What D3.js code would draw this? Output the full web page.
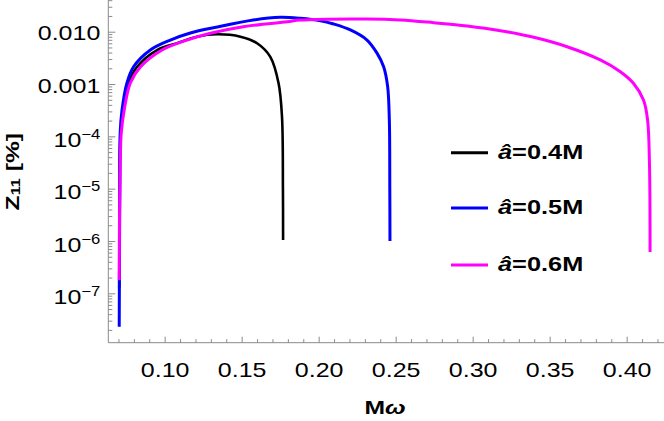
<!DOCTYPE html>
<html><head><meta charset="utf-8">
<script src="https://cdn.jsdelivr.net/npm/d3@7"></script>
<style>
html,body{margin:0;padding:0;background:#fff;}
svg{display:block;font-family:"Liberation Sans",Arial,sans-serif;}
</style></head>
<body><svg id="chart" width="664" height="421"></svg>
<script>
// ---- data ----
const seriesLabels = ["0.4M", "0.5M", "0.6M"];
const seriesColors = ["#000000", "#0000ff", "#ff00ff"];

const omega04 = [0.0705,0.0708,0.0713,0.0730,0.0766,0.0820,0.0951,0.1081,0.1210,0.1341,0.1492,0.1600,0.1686,0.1740,0.1762,0.1768,0.1769];
const logZ04  = [-6.9,-5.0,-4.0,-3.5,-2.98,-2.675,-2.35,-2.22,-2.095,-2.05,-2.095,-2.22,-2.48,-2.99,-3.63,-5.0,-5.98];

const omega05 = [0.0705,0.0707,0.0709,0.0711,0.0723,0.0755,0.0797,0.0907,0.1037,0.1167,0.1342,0.1576,0.1751,0.1881,0.2011,0.2097,0.2206,0.2314,0.2379,0.2422,0.2448,0.2459,0.2462,0.2463];
const logZ05  = [-7.64,-6.0,-5.0,-3.94,-3.5,-2.98,-2.675,-2.35,-2.16,-2.025,-1.91,-1.776,-1.725,-1.744,-1.79,-1.853,-1.967,-2.159,-2.41,-2.67,-3.05,-3.69,-5.0,-6.0];

const omega06 = [0.0705,0.0707,0.0712,0.0718,0.0740,0.0777,0.0842,0.0983,0.1145,0.1297,0.1510,0.1796,0.1881,0.2314,0.2531,0.2747,0.2964,0.3180,0.3397,0.3613,0.3829,0.3959,0.4045,0.4110,0.4136,0.4148,0.4152];
const logZ06  = [-6.75,-5.5,-4.5,-3.94,-3.45,-2.98,-2.675,-2.35,-2.16,-2.03,-1.905,-1.81,-1.778,-1.757,-1.776,-1.828,-1.89,-1.98,-2.107,-2.287,-2.54,-2.765,-2.99,-3.31,-3.69,-4.5,-6.21];

const xTickValues = [0.10,0.15,0.20,0.25,0.30,0.35,0.40];
const xMinorTicks = [0.07,0.08,0.09,0.11,0.12,0.13,0.14,0.16,0.17,0.18,0.19,0.21,0.22,0.23,0.24,0.26,0.27,0.28,0.29,0.31,0.32,0.33,0.34,0.36,0.37,0.38,0.39,0.41,0.42];
const yTickValues = [1e-7,1e-6,1e-5,1e-4,1e-3,1e-2];
const yTickBase   = ["10","10","10","10","0.001","0.010"];
const yTickExp    = ["−7","−6","−5","−4","",""];
const xDomain = [0.0634, 0.4236];
const yDomainLog = [-7.944, -1.394];

// ---- layout ----
const svg = d3.select("#chart");
const pLeft = 108.3, pBottom = 342.7, pRight = 663, pTop = 0;
const x = d3.scaleLinear().domain(xDomain).range([pLeft, pRight]);
const y = d3.scaleLog().domain([Math.pow(10,yDomainLog[0]), Math.pow(10,yDomainLog[1])]).range([pBottom, pTop]);

const axisColor = "#8a8a8a";
const regStretch = 1.19, boldStretch = 1.3;

// minor y ticks
const yMinor = [];
for (let e = -8; e <= -1; e++) for (let m = 2; m <= 9; m++) {
  const v = m * Math.pow(10, e);
  if (v >= y.domain()[0] && v <= y.domain()[1]) yMinor.push(v);
}
const gyMinor = svg.append("g").attr("transform", `translate(${pLeft},0)`)
  .call(d3.axisLeft(y).tickValues(yMinor).tickSize(-4).tickFormat(""));
gyMinor.select(".domain").remove();
gyMinor.selectAll("line").attr("stroke", axisColor);

const gy = svg.append("g").attr("transform", `translate(${pLeft},0)`)
  .call(d3.axisLeft(y).tickValues(yTickValues).tickSize(-7).tickFormat(""));
gy.select(".domain").attr("stroke", axisColor).attr("d", `M0,${pBottom}V${pTop}`);
gy.selectAll("line").attr("stroke", axisColor);
gy.selectAll(".tick text").remove();
gy.selectAll(".tick").each(function(d, i) {
  const hasExp = yTickExp[i] !== "";
  const t = d3.select(this).append("text")
    .attr("transform", `translate(-8,0) scale(${regStretch},1)`)
    .attr("dy", hasExp ? "0.48em" : "0.38em").attr("fill", "#000")
    .attr("text-anchor", "end").attr("font-size", 21);
  t.append("tspan").text(yTickBase[i]);
  if (hasExp) t.append("tspan").attr("font-size", 14).attr("dy", -8).text(yTickExp[i]);
});

const gxMinor = svg.append("g").attr("transform", `translate(0,${pBottom})`)
  .call(d3.axisBottom(x).tickValues(xMinorTicks).tickSize(-3.5).tickFormat(""));
gxMinor.select(".domain").remove();
gxMinor.selectAll("line").attr("stroke", axisColor);

const gx = svg.append("g").attr("transform", `translate(0,${pBottom})`)
  .call(d3.axisBottom(x).tickValues(xTickValues).tickSize(-6).tickFormat(d3.format(".2f")));
gx.select(".domain").attr("stroke", axisColor).attr("d", `M${pLeft},0H${pRight + 1}`);
gx.selectAll("line").attr("stroke", axisColor);
gx.selectAll("text").attr("font-size", 21).attr("fill", "#000")
  .attr("font-family", "Liberation Sans, Arial, sans-serif")
  .attr("y", 34.5).attr("dy", null)
  .attr("transform", `scale(${regStretch},1)`)
  .attr("x", function(d) { return 0; });

// ---- curves ----
const line = d3.line().x(d => x(d[0])).y(d => y(Math.pow(10, d[1]))).curve(d3.curveCatmullRom.alpha(0.5));
const series = [[omega04, logZ04], [omega05, logZ05], [omega06, logZ06]];
series.forEach((s, i) => {
  const pts = s[0].map((w, j) => [w, s[1][j]]);
  svg.append("path").datum(pts).attr("d", line)
    .attr("fill", "none").attr("stroke", seriesColors[i])
    .attr("stroke-width", i === 0 ? 2.6 : 3).attr("stroke-linejoin", "round");
});

// ---- legend ----
const legendY = [152.7, 208, 265];
seriesLabels.forEach((lab, i) => {
  svg.append("line").attr("x1", 451).attr("x2", 488).attr("y1", legendY[i]).attr("y2", legendY[i])
    .attr("stroke", seriesColors[i]).attr("stroke-width", 3);
  const t = svg.append("text").attr("transform", `translate(498,${legendY[i] + 6}) scale(${boldStretch},1)`)
    .attr("font-size", 19.5).attr("font-weight", "bold").attr("fill", "#000");
  t.append("tspan").attr("font-style", "italic").text("â");
  t.append("tspan").text("=" + lab);
});

// ---- axis titles ----
const xt = svg.append("text").attr("transform", `translate(385,414) scale(${boldStretch},1)`).attr("text-anchor", "middle")
  .attr("font-size", 19).attr("font-weight", "bold").attr("fill", "#000");
xt.append("tspan").text("M");
xt.append("tspan").attr("font-style", "italic").text("ω");

const yt = svg.append("text").attr("transform", `translate(18.5,171.7) rotate(-90) scale(${boldStretch},1)`).attr("text-anchor", "middle")
  .attr("font-size", 19).attr("font-weight", "bold").attr("fill", "#000");
yt.append("tspan").text("Z");
yt.append("tspan").attr("font-size", 12.5).attr("dy", 1).text("11");
yt.append("tspan").attr("dy", -1).text(" [%]");
</script></body></html>
